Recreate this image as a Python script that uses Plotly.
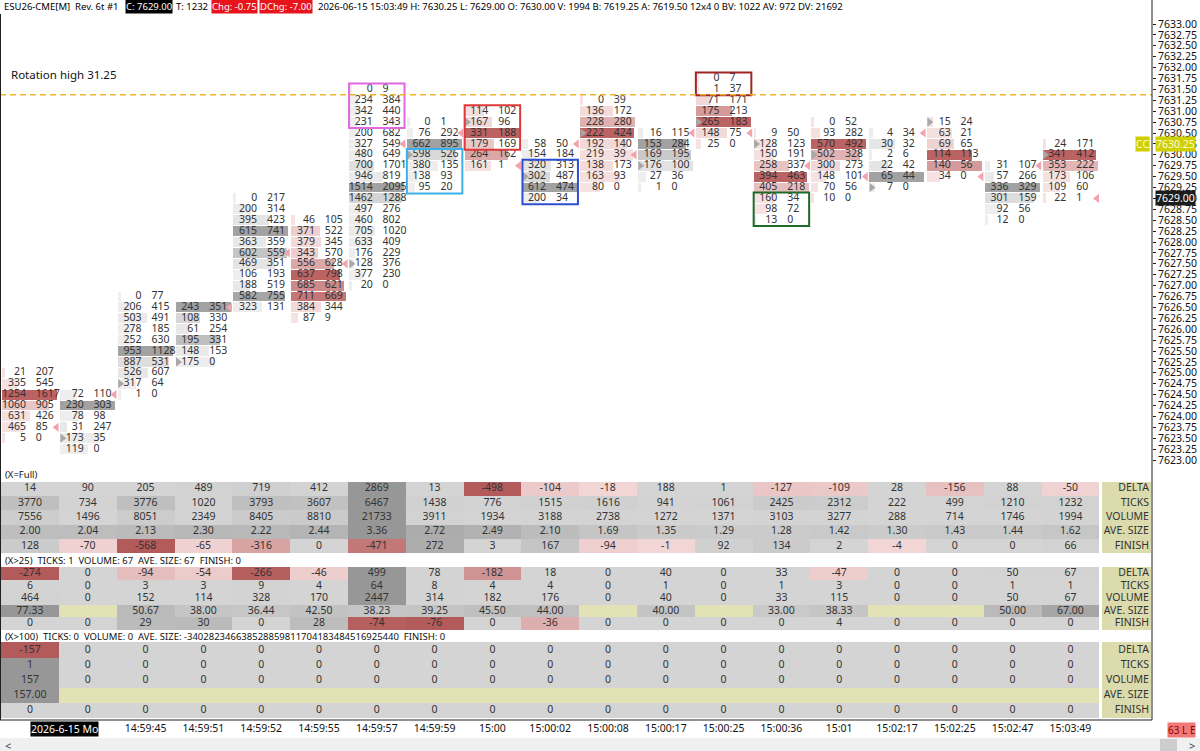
import plotly.graph_objects as go

# ---------------- data ----------------
date_label = "2026-6-15 Mo"
time_cols = [2, 3, 4, 5, 6, 7, 8, 9, 10, 11, 12, 13, 14, 15, 16, 17, 18]
times = ["14:59:45", "14:59:51", "14:59:52", "14:59:55", "14:59:57", "14:59:59", "15:00",
         "15:00:02", "15:00:08", "15:00:17", "15:00:25", "15:00:36", "15:01", "15:02:17",
         "15:02:25", "15:02:47", "15:03:49"]

# highest price of each footprint column, rows step down by one tick
col_high = [7625.00, 7624.50, 7626.75, 7626.50, 7629.00, 7628.50, 7631.50, 7630.75, 7631.00,
            7630.25, 7631.25, 7630.50, 7631.75, 7630.50, 7630.75, 7630.50, 7630.75, 7629.75, 7630.25]
bar_down = [1, 0, 0, 0, 0, 1, 0, 0, 1, 0, 1, 0, 1, 1, 1, 0, 1, 0, 1]

bids = [
    [21, 335, 1254, 1060, 631, 465, 5],
    [72, 230, 78, 31, 173, 119],
    [0, 206, 503, 278, 252, 953, 887, 526, 317, 1],
    [243, 108, 61, 195, 148, 175],
    [0, 200, 395, 615, 363, 602, 469, 106, 188, 582, 323],
    [46, 371, 379, 343, 556, 637, 685, 711, 384, 87],
    [0, 234, 342, 231, 200, 327, 480, 700, 946, 1514, 1462, 497, 460, 705, 633, 176, 128, 377, 20],
    [0, 76, 662, 598, 380, 138, 95],
    [114, 167, 331, 179, 264, 161],
    [58, 154, 320, 302, 612, 200],
    [0, 136, 228, 222, 192, 219, 138, 163, 80],
    [16, 153, 169, 176, 27, 1],
    [0, 1, 71, 175, 265, 148, 25],
    [9, 128, 150, 258, 394, 405, 160, 98, 13],
    [0, 93, 570, 502, 300, 148, 70, 10],
    [4, 30, 2, 22, 65, 7],
    [15, 63, 69, 114, 140, 34],
    [31, 57, 336, 301, 92, 12],
    [24, 341, 353, 173, 109, 22],
]
asks = [
    [207, 545, 1617, 905, 426, 85, 0],
    [110, 303, 98, 247, 35, 0],
    [77, 415, 491, 185, 630, 1128, 531, 607, 64, 0],
    [351, 330, 254, 331, 153, 0],
    [217, 314, 423, 741, 359, 559, 351, 193, 519, 755, 131],
    [105, 522, 345, 570, 628, 798, 621, 669, 344, 9],
    [9, 384, 440, 343, 682, 549, 649, 1701, 819, 2095, 1288, 276, 802, 1020, 409, 229, 376, 230, 0],
    [1, 292, 895, 526, 135, 93, 20],
    [102, 96, 188, 169, 162, 1],
    [50, 184, 313, 487, 474, 34],
    [39, 172, 280, 424, 140, 39, 173, 93, 0],
    [115, 284, 195, 100, 36, 0],
    [7, 37, 171, 213, 183, 75, 0],
    [50, 123, 191, 337, 463, 218, 34, 72, 0],
    [52, 282, 492, 328, 273, 101, 56, 0],
    [34, 32, 6, 42, 44, 0],
    [24, 21, 65, 113, 56, 0],
    [107, 266, 329, 159, 56, 0],
    [171, 412, 222, 106, 60, 1],
]

open_px = [None, 7623.50, 7624.75, 7625.25, None, None, 7627.50, 7630.00, 7630.75, 7629.50,
           7630.50, 7629.75, 7630.75, 7630.25, 7630.00, 7629.25, 7630.75, None, 7630.00]
close_px = [7623.75, 7624.50, None, 7626.50, 7627.75, 7627.50, 7630.25, 7630.50, 7629.75, 7630.25,
            7630.00, 7630.50, 7630.50, 7629.75, 7629.50, 7630.50, 7629.50, 7629.75, 7629.00]

box_col = [6, 7, 8, 9, 12, 13]
box_top = [7631.50, 7630.00, 7631.00, 7629.75, 7631.75, 7629.00]
box_bot = [7630.75, 7629.25, 7630.25, 7629.00, 7631.50, 7628.50]
box_color = ["#e068e0", "#3cb0e8", "#e03838", "#2c4ed0", "#a02626", "#1e6a28"]

rotation_high = 7631.375
last_price = 7629.00
cc_price = 7630.25

row_names = ["DELTA", "TICKS", "VOLUME", "AVE. SIZE", "FINISH"]

full_delta = [14, 90, 205, 489, 719, 412, 2869, 13, -498, -104, -18, 188, 1, -127, -109, 28, -156, 88, -50]
full_ticks = [3770, 734, 3776, 1020, 3793, 3607, 6467, 1438, 776, 1515, 1616, 941, 1061, 2425, 2312, 222, 499, 1210, 1232]
full_volume = [7556, 1496, 8051, 2349, 8405, 8810, 21733, 3911, 1934, 3188, 2738, 1272, 1371, 3103, 3277, 288, 714, 1746, 1994]
full_ave = [2.00, 2.04, 2.13, 2.30, 2.22, 2.44, 3.36, 2.72, 2.49, 2.10, 1.69, 1.35, 1.29, 1.28, 1.42, 1.30, 1.43, 1.44, 1.62]
full_finish = [128, -70, -568, -65, -316, 0, -471, 272, 3, 167, -94, -1, 92, 134, 2, -4, 0, 0, 66]

x25_delta = [-274, 0, -94, -54, -266, -46, 499, 78, -182, 18, 0, 40, 0, 33, -47, 0, 0, 50, 67]
x25_ticks = [6, 0, 3, 3, 9, 4, 64, 8, 4, 4, 0, 1, 0, 1, 3, 0, 0, 1, 1]
x25_volume = [464, 0, 152, 114, 328, 170, 2447, 314, 182, 176, 0, 40, 0, 33, 115, 0, 0, 50, 67]
x25_ave = [77.33, None, 50.67, 38.00, 36.44, 42.50, 38.23, 39.25, 45.50, 44.00, None, 40.00, None, 33.00, 38.33, None, None, 50.00, 67.00]
x25_finish = [0, 0, 29, 30, 0, 28, -74, -76, 0, -36, 0, 0, 0, 0, 4, 0, 0, 0, 0]

x100_delta = [-157, 0, 0, 0, 0, 0, 0, 0, 0, 0, 0, 0, 0, 0, 0, 0, 0, 0, 0]
x100_ticks = [1, 0, 0, 0, 0, 0, 0, 0, 0, 0, 0, 0, 0, 0, 0, 0, 0, 0, 0]
x100_volume = [157, 0, 0, 0, 0, 0, 0, 0, 0, 0, 0, 0, 0, 0, 0, 0, 0, 0, 0]
x100_ave = [157.00, None, None, None, None, None, None, None, None, None, None, None, None, None, None, None, None, None, None]
x100_finish = [0, 0, 0, 0, 0, 0, 0, 0, 0, 0, 0, 0, 0, 0, 0, 0, 0, 0, 0]

x25_title = "(X>25)  TICKS: 1  VOLUME: 67  AVE. SIZE: 67  FINISH: 0"
x100_title = "(X>100)  TICKS: 0  VOLUME: 0  AVE. SIZE: -340282346638528859811704183484516925440  FINISH: 0"

# ---------------- layout constants ----------------
W, H = 1200, 751
FONT = "Noto Sans"
TXT = "#333333"
TICK = 0.25
PX_C0, PX_DX = 30.0, 57.8          # pixel x of column 0, column spacing
PLOT_R = 1152                      # right edge of the chart area
P_REF, PX_PREF, PX_PER_PT = 7633.0, 24.0, 43.6
MAIN_TOP, MAIN_BOT = 14, 466
TAB_TOP, TAB_BOT = 466, 720

def px(x):
    return x / W

def py(y):
    return 1 - y / H

x_range = [(0 - PX_C0) / PX_DX, (PLOT_R - PX_C0) / PX_DX]
y_range = [P_REF - (MAIN_BOT - PX_PREF) / PX_PER_PT, P_REF + (PX_PREF - MAIN_TOP) / PX_PER_PT]


def hex2rgb(h):
    return tuple(int(h[k:k + 2], 16) for k in (1, 3, 5))


def mix(a, b, t):
    t = max(0.0, min(1.0, t))
    ra, rb = hex2rgb(a), hex2rgb(b)
    return "rgb(%d,%d,%d)" % tuple(round(u + (v - u) * t) for u, v in zip(ra, rb))


fig = go.Figure()

# ---------------- footprint ----------------
bg_x, bg_y, bg_base, bg_col = [], [], [], []
bid_x, bid_y, bid_t, ask_x, ask_y, ask_t = [], [], [], [], [], []
for i, top in enumerate(col_high):
    n = len(bids[i])
    prices = [top - TICK * k for k in range(n)]
    tot = [b + a for b, a in zip(bids[i], asks[i])]
    mt, mb = max(tot), max(max(bids[i]), 1)
    lo, hi = ("#f6e2e2", "#bb6262") if bar_down[i] else ("#eeeeee", "#a2a2a2")
    for k in range(n):
        frac = max(bids[i][k] / mb, 0.05)
        bg_x.append(0.95 * frac)
        bg_y.append(prices[k])
        bg_base.append(i - 0.48)
        bg_col.append(mix(lo, hi, (tot[k] / mt) ** 4))
        bid_x.append(i - 0.07)
        bid_y.append(prices[k])
        bid_t.append(str(bids[i][k]))
        ask_x.append(i + 0.10)
        ask_y.append(prices[k])
        ask_t.append(str(asks[i][k]))

fig.add_trace(go.Bar(x=bg_x, y=bg_y, base=bg_base, orientation="h", width=TICK * 0.9,
                     marker=dict(color=bg_col, line=dict(width=0)), hoverinfo="skip",
                     showlegend=False, xaxis="x", yaxis="y"))
fig.add_trace(go.Scatter(x=bid_x, y=bid_y, text=bid_t, mode="text", textposition="middle left",
                         textfont=dict(family=FONT, size=10.5, color=TXT), hoverinfo="skip",
                         showlegend=False, xaxis="x", yaxis="y"))
fig.add_trace(go.Scatter(x=ask_x, y=ask_y, text=ask_t, mode="text", textposition="middle right",
                         textfont=dict(family=FONT, size=10.5, color=TXT), hoverinfo="skip",
                         showlegend=False, xaxis="x", yaxis="y"))

ox = [i - 0.44 for i, p in enumerate(open_px) if p is not None]
oy = [p for p in open_px if p is not None]
cx = [i + 0.46 for i, p in enumerate(close_px) if p is not None]
cy = [p for p in close_px if p is not None]
fig.add_trace(go.Scatter(x=ox, y=oy, mode="markers", hoverinfo="skip", showlegend=False,
                         marker=dict(symbol="triangle-right", size=8, color="#a8a8a8"),
                         xaxis="x", yaxis="y"))
fig.add_trace(go.Scatter(x=cx, y=cy, mode="markers", hoverinfo="skip", showlegend=False,
                         marker=dict(symbol="triangle-left", size=8, color="#f2a4ae"),
                         xaxis="x", yaxis="y"))

shapes = []
for c, t, b, col in zip(box_col, box_top, box_bot, box_color):
    shapes.append(dict(type="rect", xref="x", yref="y", x0=c - 0.48, x1=c + 0.48,
                       y0=b - TICK / 2 - 0.01, y1=t + TICK / 2 + 0.01,
                       line=dict(color=col, width=2), fillcolor="rgba(0,0,0,0)"))
shapes.append(dict(type="line", xref="x domain", yref="y", x0=0, x1=1,
                   y0=rotation_high, y1=rotation_high,
                   line=dict(color="#efb62c", width=1.5, dash="6px,4px")))

# ---------------- tables ----------------
KHAKI = "#dbdbae"
KHAKI_BLANK = "#e2e2b6"


def cell_color(v, row):
    if v is None:
        return KHAKI_BLANK
    vals = [x for x in row if x is not None]
    pos_max = max([x for x in vals if x > 0] or [0])
    neg_max = max([-x for x in vals if x < 0] or [0])
    if v < 0:
        return mix("#f2d6d6", "#a84444", 0.85 * (-v / neg_max) ** 1.5)
    m = max(pos_max, 0.6 * neg_max, 1)
    return mix("#d4d4d4", "#6e6e6e", 0.6 * (v / m) ** 2)


def fmt(v, ave):
    if v is None:
        return ""
    return "%.2f" % v if ave else str(v)


blocks = [
    (481.7, 14.3, [full_delta, full_ticks, full_volume, full_ave, full_finish]),
    (567.3, 12.5, [x25_delta, x25_ticks, x25_volume, x25_ave, x25_finish]),
    (642.3, 15.2, [x100_delta, x100_ticks, x100_volume, x100_ave, x100_finish]),
]
titles = [(474, "(X=Full)"), (560.5, x25_title), (636, x100_title)]

tb_x, tb_y, tb_base, tb_w, tb_col = [], [], [], [], []
tt_x, tt_y, tt_t = [], [], []
lb_x, lb_y, lb_t = [], [], []
label_c = (1126.5 - PX_C0) / PX_DX
label_w = 49.5 / PX_DX
for top, rh, rows in blocks:
    for r, row in enumerate(rows):
        ave = r == 3
        y0 = top + r * rh
        for i, v in enumerate(row):
            tb_x.append(i)
            tb_y.append(rh)
            tb_base.append(y0)
            tb_w.append(1.0)
            tb_col.append(cell_color(v, row))
            tt_x.append(i)
            tt_y.append(y0 + rh / 2)
            tt_t.append(fmt(v, ave))
        tb_x.append(label_c)
        tb_y.append(rh)
        tb_base.append(y0)
        tb_w.append(label_w)
        tb_col.append(KHAKI)
        lb_x.append(label_c + label_w / 2 - 0.04)
        lb_y.append(y0 + rh / 2)
        lb_t.append(row_names[r])

fig.add_trace(go.Bar(x=tb_x, y=tb_y, base=tb_base, width=tb_w,
                     marker=dict(color=tb_col, line=dict(width=0)), hoverinfo="skip",
                     showlegend=False, xaxis="x2", yaxis="y2"))
fig.add_trace(go.Scatter(x=tt_x, y=tt_y, text=tt_t, mode="text", textposition="middle center",
                         textfont=dict(family=FONT, size=10.5, color=TXT), hoverinfo="skip",
                         showlegend=False, xaxis="x2", yaxis="y2"))
fig.add_trace(go.Scatter(x=lb_x, y=lb_y, text=lb_t, mode="text", textposition="middle left",
                         textfont=dict(family=FONT, size=10.5, color=TXT), hoverinfo="skip",
                         showlegend=False, xaxis="x2", yaxis="y2"))

# ---------------- frame & chrome ----------------
shapes += [
    dict(type="line", xref="paper", yref="paper", x0=px(PLOT_R), x1=px(PLOT_R), y0=py(0), y1=py(TAB_BOT),
         line=dict(color="#202020", width=1)),
    dict(type="line", xref="paper", yref="paper", x0=px(0.5), x1=px(0.5), y0=py(MAIN_TOP), y1=py(TAB_BOT),
         line=dict(color="#202020", width=1)),
    dict(type="line", xref="paper", yref="paper", x0=0, x1=px(PLOT_R), y0=py(TAB_BOT), y1=py(TAB_BOT),
         line=dict(color="#202020", width=1)),
    dict(type="rect", xref="paper", yref="paper", x0=0, x1=1, y0=0, y1=py(738),
         fillcolor="#f0f0f0", line=dict(width=0)),
    dict(type="rect", xref="paper", yref="paper", x0=px(1160), x1=px(1177), y0=0, y1=py(739),
         fillcolor="#cdcdcd", line=dict(width=0)),
]

annotations = []


def note(x, y, text, size=10, color="#000", bg=None, xanchor="left", xref="paper", yref="paper"):
    a = dict(x=x, y=y, xref=xref, yref=yref, text=text, showarrow=False, xanchor=xanchor,
             yanchor="middle", font=dict(family=FONT, size=size, color=color), borderpad=0)
    if bg:
        a["bgcolor"] = bg
    annotations.append(a)


header = [
    (3, "ESU26-CME[M]  Rev. 6t #1", None, "#000"),
    (125, "C: 7629.00", "#000000", "#ffffff"),
    (175, "T: 1232", None, "#000"),
    (211, "Chg: -0.75", "#e8141c", "#ffffff"),
    (259, "DChg: -7.00", "#e8141c", "#ffffff"),
    (317, "2026-06-15 15:03:49 H: 7630.25 L: 7629.00 O: 7630.00 V: 1994 B: 7619.25 A: 7619.50 "
          "12x4 0 BV: 1022 AV: 972 DV: 21692", None, "#000"),
]
for x, t, bg, fc in header:
    note(px(x), py(7), t, size=9.5, color=fc, bg=bg)

note(px(10), P_REF - (75 - PX_PREF) / PX_PER_PT, "Rotation high 31.25", size=11.5, color="#111", yref="y")
note(px(1155), cc_price, "%.2f" % cc_price, size=10.5, color="#fbfbd8", bg="#d0d000", yref="y")
note(px(1150), cc_price, "CC", size=10.5, color="#fbfbd8", bg="#d0d000", xanchor="right", yref="y")
note(px(1155), last_price, "%.2f" % last_price, size=10.5, color="#ffffff", bg="#1c1c1c", yref="y")

for yy, t in titles:
    note(px(4), py(yy), t, size=9.5, color="#111")

note(0, py(729), date_label, size=10.5, color="#ffffff", bg="#000000", xref="x")
note(px(1181), py(729.5), "63 L E", size=10, color="#8a0000", bg="#f07878", xanchor="center")
note(px(8), py(745), "<", size=11, color="#444", xanchor="center")
note(px(1192), py(745), ">", size=11, color="#444", xanchor="center")

fig.update_layout(
    width=W, height=H, template="none",
    margin=dict(l=0, r=0, t=0, b=0),
    paper_bgcolor="#ffffff", plot_bgcolor="#ffffff",
    barmode="overlay", bargap=0, showlegend=False,
    shapes=shapes, annotations=annotations,
    xaxis=dict(domain=[0, px(PLOT_R)], range=x_range, showticklabels=False, showgrid=False,
               zeroline=False, showline=False, ticks="", anchor="y"),
    yaxis=dict(domain=[py(MAIN_BOT), py(MAIN_TOP)], range=y_range, side="right", anchor="x",
               tickmode="array",
               tickvals=[P_REF - TICK * k for k in range(41)],
               ticktext=["%.2f" % (P_REF - TICK * k) for k in range(41)],
               ticks="outside", ticklen=3, tickcolor="#202020", showgrid=False, zeroline=False,
               showline=False, tickfont=dict(family=FONT, size=10.5, color="#111")),
    xaxis2=dict(domain=[0, px(PLOT_R)], range=x_range, anchor="y2", tickmode="array",
                tickvals=time_cols, ticktext=times, tickangle=0, ticks="", showgrid=False,
                zeroline=False, showline=False, tickfont=dict(family=FONT, size=10.5, color="#111")),
    yaxis2=dict(domain=[py(TAB_BOT), py(TAB_TOP)], range=[TAB_BOT, TAB_TOP], anchor="x2",
                visible=False, showgrid=False, zeroline=False),
)

fig.write_html("out.html", config={"displayModeBar": False},
               post_script="document.body.style.margin='0';")
